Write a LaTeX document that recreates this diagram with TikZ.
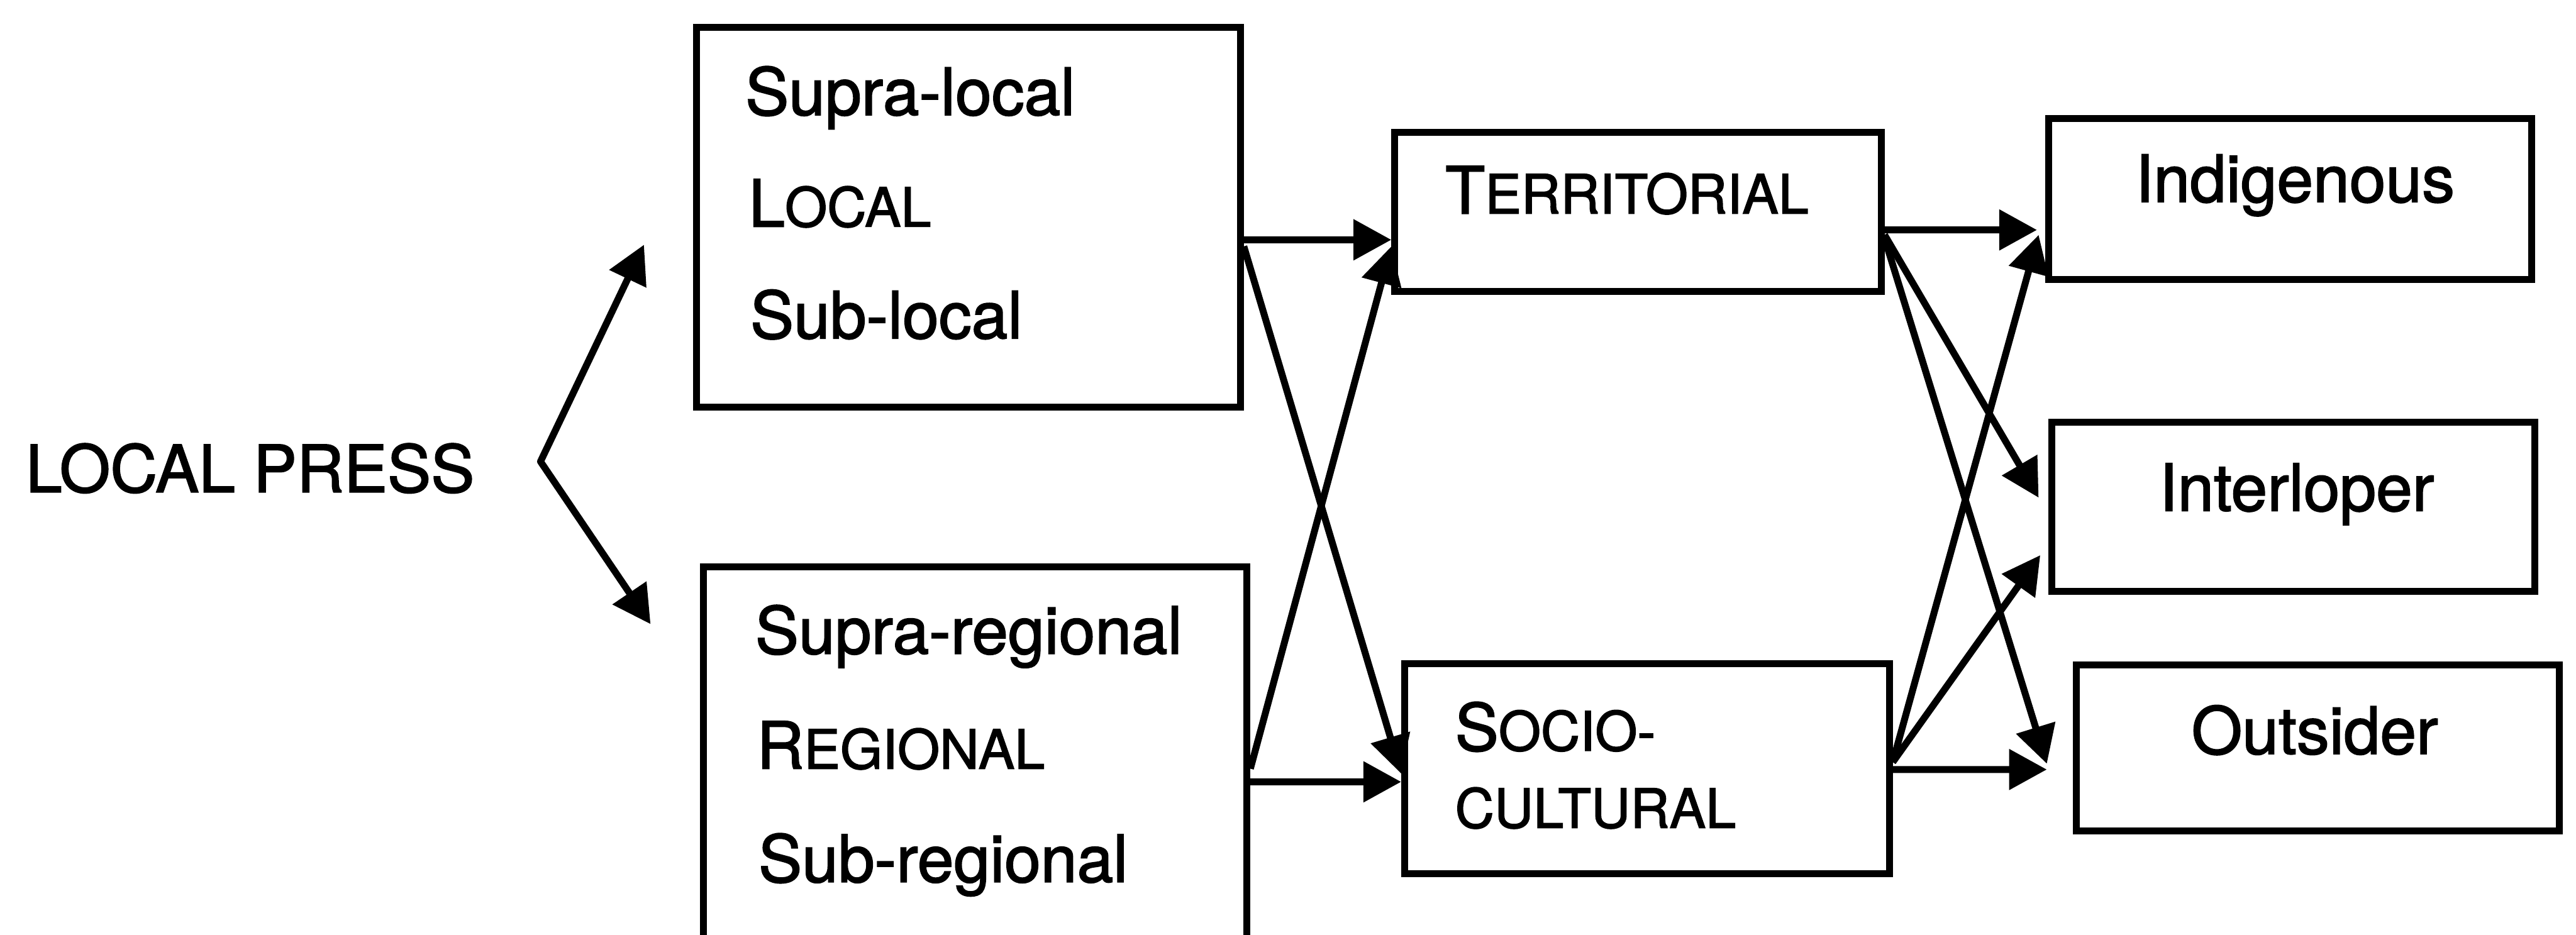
\documentclass[tikz,border=0pt]{standalone}
\usepackage{fontspec}
\setmainfont{TeX Gyre Heros}[FakeBold=1.8]
\usetikzlibrary{arrows.meta}
\newcommand\smallcaps[1]{{\fontsize{9.4pt}{11pt}\selectfont #1}}
\begin{document}
\begin{tikzpicture}[x=0.1mm,y=-0.1mm,
  box/.style={draw, line width=0.42mm, inner sep=0pt, rectangle},
  lbl/.style={inner sep=0pt, anchor=base west, font=\fontsize{11.3pt}{13pt}\selectfont},
  clbl/.style={inner sep=0pt, anchor=base, font=\fontsize{11.3pt}{13pt}\selectfont},
  arr/.style={line width=0.42mm, -{Triangle[length=2.3mm,width=2.4mm]}},
  dblarr/.style={line width=0.42mm, line join=round, {Triangle[length=2.3mm,width=2.4mm]}-{Triangle[length=2.3mm,width=2.4mm]}},
]
\useasboundingbox (0,0) rectangle (1568,569);
\fill[white] (0,0) rectangle (1568,569);

% boxes
\node[box, minimum width=33.1mm, minimum height=23.15mm] (loc) at (589.5,132.25) {};
\node[box, minimum width=33.1mm, minimum height=23.2mm] (reg) at (593.5,461) {};
\node[box, minimum width=29.6mm, minimum height=9.7mm] (ter) at (997,129) {};
\node[box, minimum width=29.5mm, minimum height=12.8mm] (soc) at (1002.5,468) {};
\node[box, minimum width=29.4mm, minimum height=9.8mm] (ind) at (1394,121) {};
\node[box, minimum width=29.4mm, minimum height=10.3mm] (int) at (1396,308.5) {};
\node[box, minimum width=29.4mm, minimum height=10.1mm] (out) at (1411,455.5) {};

% texts
\node[lbl] (lp) at (15,299.6) {LOCAL PRESS};
\node[lbl] (loc1) at (453,70) {Supra-local};
\node[lbl] (loc2) at (455,138) {L\smallcaps{OCAL}};
\node[lbl] (loc3) at (456,206) {Sub-local};
\node[lbl] (reg1) at (459,398) {Supra-regional};
\node[lbl] (reg2) at (460,468) {R\smallcaps{EGIONAL}};
\node[lbl] (reg3) at (461,537) {Sub-regional};
\node[lbl] (tert) at (879,130) {T\smallcaps{ERRITORIAL}};
\node[lbl] (soc1) at (885,457) {S\smallcaps{OCIO-}};
\node[lbl] (soc2) at (885,504) {\smallcaps{CULTURAL}};
\node[clbl] (indt) at (1397,123) {Indigenous};
\node[clbl] (intt) at (1398,311) {Interloper};
\node[clbl] (outt) at (1409,459) {Outsider};

% local press fork
\coordinate (v) at (329,281);
\coordinate (t1) at (392,149);
\coordinate (t2) at (396,380);
\draw[dblarr] (t1) -- (v) -- (t2);

% level boxes to orientation boxes
\draw[arr] ([yshift=-1.375mm]loc.east) -- ([yshift=-1.7mm]ter.west);
\draw[arr] ([yshift=-1.775mm]loc.east) -- ([yshift=-0.3mm]soc.west);
\draw[arr] ([yshift=-1.5mm]reg.east) -- ([yshift=-0.8mm]soc.west);
\draw[arr] ([yshift=-0.7mm]reg.east) -- ([yshift=-2.1mm]ter.west);

% orientation boxes to identity boxes
\draw[arr] ([yshift=-1.1mm]ter.east) -- ([xshift=-0.5mm,yshift=-1.9mm]ind.west);
\draw[arr] ([yshift=-1.4mm]ter.east) -- ([xshift=-0.6mm,yshift=0.55mm]int.west);
\draw[arr] ([yshift=-1.6mm]ter.east) -- ([xshift=-1.6mm,yshift=-0.95mm]out.west);
\draw[arr] ([yshift=0.4mm]soc.east) -- ([xshift=-0.4mm,yshift=-2.2mm]ind.west);
\draw[arr] ([yshift=0.4mm]soc.east) -- ([xshift=-0.5mm,yshift=-2.95mm]int.west);
\draw[arr] ([yshift=-0.05mm]soc.east) -- ([xshift=-1.6mm,yshift=-1.3mm]out.west);
\end{tikzpicture}
\end{document}
